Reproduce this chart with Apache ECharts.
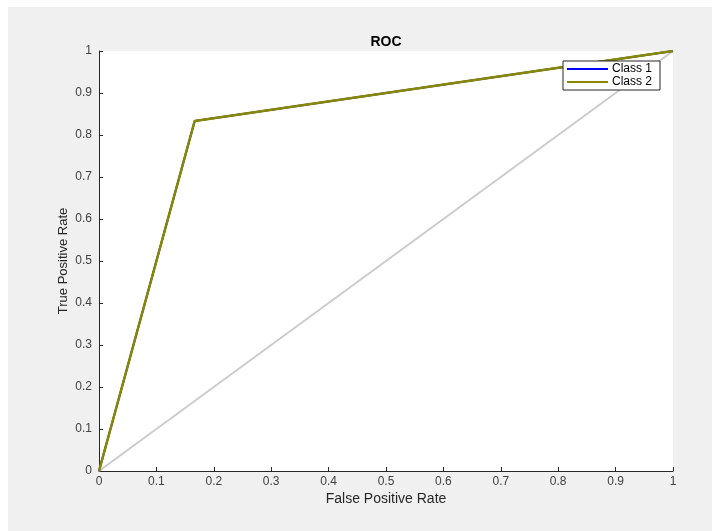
<!DOCTYPE html>
<html>
<head>
<meta charset="utf-8">
<script src="https://cdn.jsdelivr.net/npm/echarts@6/dist/echarts.min.js"></script>
<style>
html,body{margin:0;padding:0;background:#fff;}
#c{width:712px;height:531px;}
</style>
</head>
<body>
<div id="c"></div>
<script>
var tickLabels = ['0','0.1','0.2','0.3','0.4','0.5','0.6','0.7','0.8','0.9','1'];
var class1Fpr = [0, 0.1667, 1];
var class1Tpr = [0, 0.8333, 1];
var class2Fpr = [0, 0.1667, 1];
var class2Tpr = [0, 0.8333, 1];
var chanceX = [0, 1];
var chanceY = [0, 1];

function pairs(xs, ys){ return xs.map(function(x,i){return [x, ys[i]];}); }
function fmt(v){ var s = Math.round(v*10); return tickLabels[s]; }

var chart = echarts.init(document.getElementById('c'), null, {renderer:'canvas'});
var font = 'Liberation Sans, Arial, Helvetica, sans-serif';
chart.setOption({
  animation:false,
  backgroundColor:'#ffffff',
  textStyle:{fontFamily:font},
  graphic:[{type:'rect', z:-10, shape:{x:8,y:7,width:704,height:524}, style:{fill:'#f0f0f0'}, silent:true},
           {type:'rect', z:-9, shape:{x:99,y:51,width:574,height:420}, style:{fill:'#ffffff'}, silent:true}],
  title:{text:'ROC', left:386, top:35, textAlign:'center', padding:0,
    textStyle:{fontFamily:font, fontSize:14, fontWeight:'bold', color:'#000'}},
  grid:{left:99, top:51, right:39, bottom:60, containLabel:false},
  legend:{
    orient:'vertical', left:563, top:61,
    data:['Class 1','Class 2'],
    backgroundColor:'#fff', borderColor:'#262626', borderWidth:1,
    padding:[2,8,2,4], itemGap:1, itemWidth:41, itemHeight:2,
    icon:'rect',
    textStyle:{fontFamily:font, fontSize:12, color:'#000', padding:[0,0,0,-1]}
  },
  xAxis:{
    type:'value', min:0, max:1, interval:0.1,
    name:'False Positive Rate', nameLocation:'middle', nameGap:21, nameMoveOverlap:false,
    nameTextStyle:{fontFamily:font, fontSize:14, color:'#262626'},
    axisLine:{show:true, lineStyle:{color:'#262626', width:1}},
    axisTick:{show:true, inside:true, length:4, lineStyle:{color:'#262626'}},
    axisLabel:{formatter:fmt, fontFamily:font, fontSize:12, color:'#404040', margin:5},
    splitLine:{show:false}
  },
  yAxis:{
    type:'value', min:0, max:1, interval:0.1,
    name:'True Positive Rate', nameLocation:'middle', nameGap:29, nameRotate:90, nameMoveOverlap:false,
    nameTextStyle:{fontFamily:font, fontSize:13, color:'#262626'},
    axisLine:{show:true, lineStyle:{color:'#262626', width:1}},
    axisTick:{show:true, inside:true, length:4, lineStyle:{color:'#262626'}},
    axisLabel:{formatter:fmt, fontFamily:font, fontSize:12, color:'#404040', margin:7},
    splitLine:{show:false}
  },
  series:[
    {name:'chance', type:'line', data:pairs(chanceX, chanceY), symbol:'none',
     lineStyle:{color:'#cccccc', width:2}, itemStyle:{color:'#cccccc'}, z:1},
    {name:'Class 1', type:'line', data:pairs(class1Fpr, class1Tpr), symbol:'none',
     lineStyle:{color:'#0000ff', width:2}, itemStyle:{color:'#0000ff'}, z:2},
    {name:'Class 2', type:'line', data:pairs(class2Fpr, class2Tpr), symbol:'none',
     lineStyle:{color:'#878700', width:2.5}, itemStyle:{color:'#878700'}, z:3}
  ]
});
</script>
</body>
</html>
